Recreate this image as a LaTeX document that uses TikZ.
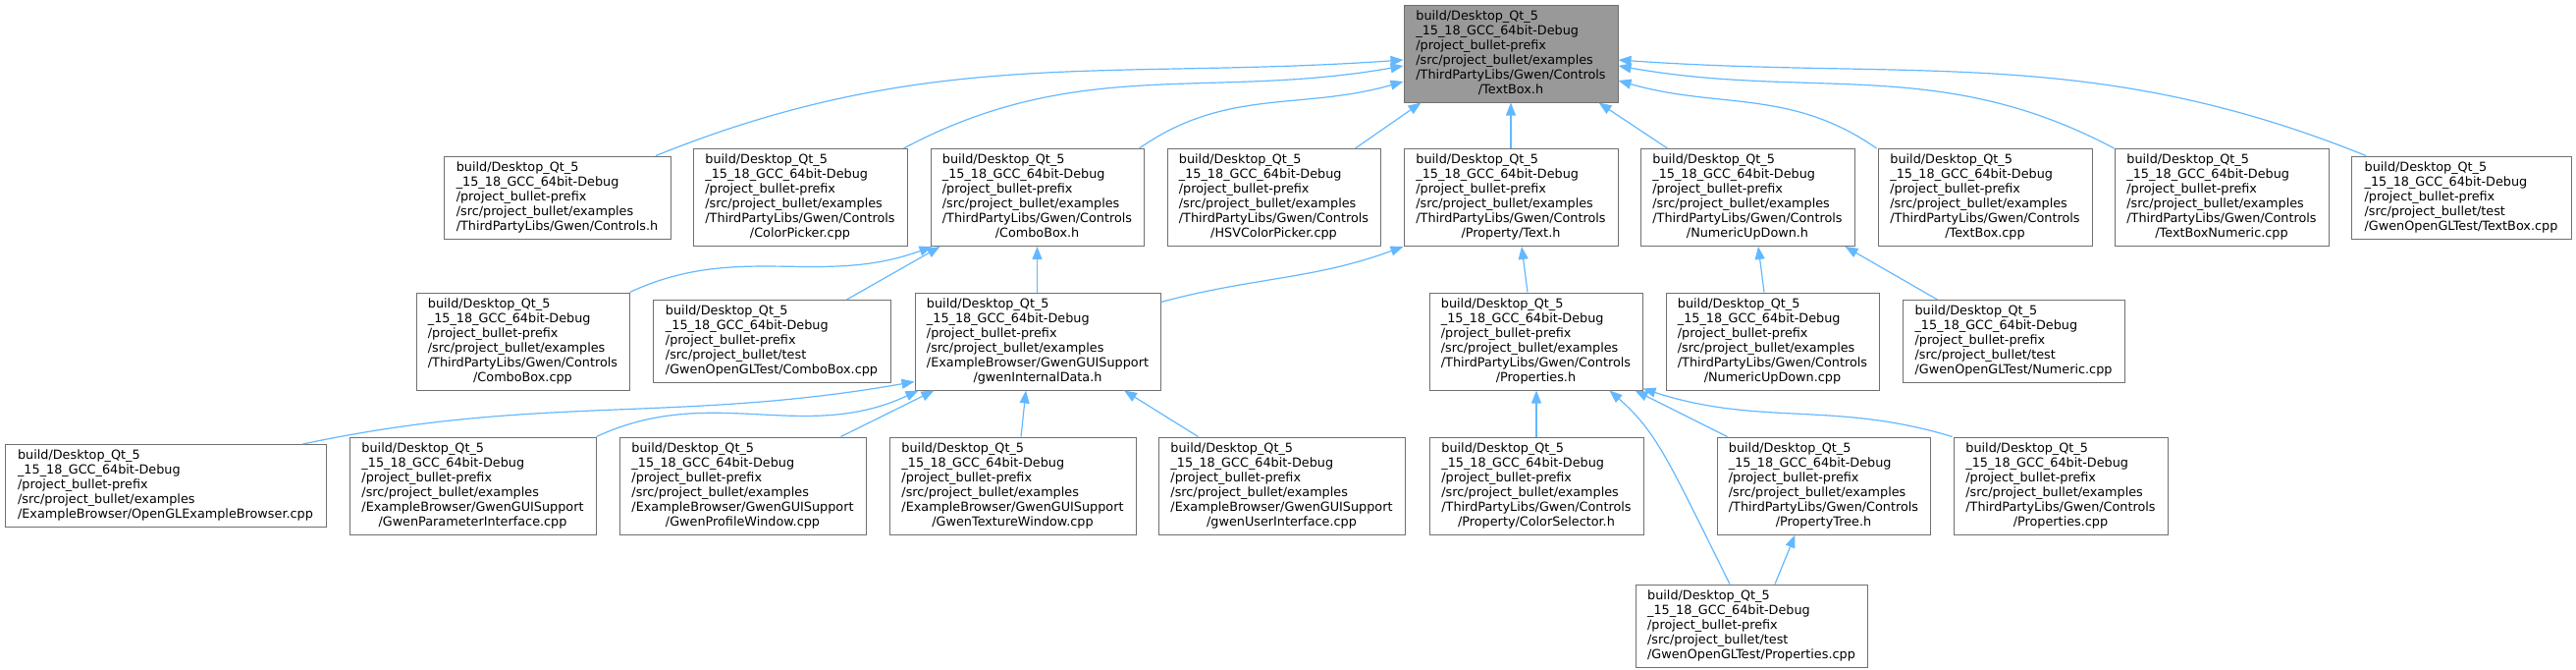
\documentclass[tikz,border=0pt]{standalone}
\usepackage{fontspec}
\setmainfont{DejaVu Sans}
\usepackage{xcolor}
\usetikzlibrary{arrows.meta}

\definecolor{edgeblue}{HTML}{63B8FF}
\definecolor{boxgray}{HTML}{707070}
\definecolor{rootfill}{HTML}{999999}

% file label: left lines, last line centred
\newcommand{\pth}[2]{\begin{tabular}{@{}l@{}}#1\\\multicolumn{1}{@{}c@{}}{#2}\end{tabular}}
\newcommand{\bpre}{build/Desktop\_Qt\_5\\\_15\_18\_GCC\_64bit-Debug\\/project\_bullet-prefix}
\newcommand{\bex}{\bpre\\/src/project\_bullet/examples}
\newcommand{\bctl}{\bex\\/ThirdPartyLibs/Gwen/Controls}
\newcommand{\bgui}{\bex\\/ExampleBrowser/GwenGUISupport}
\newcommand{\btst}{\bpre\\/src/project\_bullet/test}

\begin{document}
\begin{tikzpicture}[x=1pt, y=-1pt,
    box/.style={draw=boxgray, fill=white, line width=1pt, inner sep=0pt, minimum height=99pt, font=\fontsize{12.8}{15}\selectfont},
    sbox/.style={box, minimum height=84pt},
    incl/.style={draw=edgeblue, line width=1.2pt, -{Triangle[length=13pt,width=10pt]}}]
    \useasboundingbox (0,0) rectangle (2624,681);
    % Draw root file
    \node[box, fill=rootfill, minimum width=218pt] (root) at (1539,54.5) {\pth{\bctl}{/TextBox.h}};
    % Draw first row
    \node[sbox, minimum width=231pt] (ctrlh) at (567.5,201) {\pth{\bex}{/ThirdPartyLibs/Gwen/Controls.h}};
    \node[box, minimum width=218pt] (cpick) at (815,201) {\pth{\bctl}{/ColorPicker.cpp}};
    \node[box, minimum width=217pt] (cboxh) at (1056.5,201) {\pth{\bctl}{/ComboBox.h}};
    \node[box, minimum width=217pt] (hsv) at (1297.5,201) {\pth{\bctl}{/HSVColorPicker.cpp}};
    \node[box, minimum width=218pt] (texth) at (1539,201) {\pth{\bctl}{/Property/Text.h}};
    \node[box, minimum width=218pt] (nudh) at (1780,201) {\pth{\bctl}{/NumericUpDown.h}};
    \node[box, minimum width=218pt] (tboxc) at (2022,201) {\pth{\bctl}{/TextBox.cpp}};
    \node[box, minimum width=218pt] (tboxn) at (2263,201) {\pth{\bctl}{/TextBoxNumeric.cpp}};
    \node[sbox, minimum width=224pt] (ttbox) at (2507,201) {\pth{\btst}{/GwenOpenGLTest/TextBox.cpp}};
    % Draw second row
    \node[box, minimum width=217pt] (cboxc) at (532.5,347.5) {\pth{\bctl}{/ComboBox.cpp}};
    \node[sbox, minimum width=242pt] (tcbox) at (786,347.5) {\pth{\btst}{/GwenOpenGLTest/ComboBox.cpp}};
    \node[box, minimum width=250pt] (gidh) at (1057,347.5) {\pth{\bgui}{/gwenInternalData.h}};
    \node[box, minimum width=217pt] (propsh) at (1564.5,347.5) {\pth{\bctl}{/Properties.h}};
    \node[box, minimum width=217pt] (nudc) at (1805.5,347.5) {\pth{\bctl}{/NumericUpDown.cpp}};
    \node[sbox, minimum width=226pt] (tnum) at (2051,347.5) {\pth{\btst}{/GwenOpenGLTest/Numeric.cpp}};
    % Draw third row
    \node[sbox, minimum width=327pt] (oglb) at (168.5,494.5) {\pth{\bex}{/ExampleBrowser/OpenGLExampleBrowser.cpp}};
    \node[box, minimum width=251pt] (gpar) at (481.5,494.5) {\pth{\bgui}{/GwenParameterInterface.cpp}};
    \node[box, minimum width=251pt] (gprof) at (756.5,494.5) {\pth{\bgui}{/GwenProfileWindow.cpp}};
    \node[box, minimum width=251pt] (gtex) at (1031.5,494.5) {\pth{\bgui}{/GwenTextureWindow.cpp}};
    \node[box, minimum width=251pt] (guser) at (1305.5,494.5) {\pth{\bgui}{/gwenUserInterface.cpp}};
    \node[box, minimum width=218pt] (csel) at (1565,494.5) {\pth{\bctl}{/Property/ColorSelector.h}};
    \node[box, minimum width=217pt] (ptree) at (1857.5,494.5) {\pth{\bctl}{/PropertyTree.h}};
    \node[box, minimum width=218pt] (propsc) at (2099,494.5) {\pth{\bctl}{/Properties.cpp}};
    % Draw last row
    \node[sbox, minimum width=236pt] (tprops) at (1784,637) {\pth{\btst}{/GwenOpenGLTest/Properties.cpp}};
    % Draw includes into root
    \draw[incl] ([xshift=100.5pt]ctrlh.north) to[out=22,in=184] ([yshift=-6.5pt]root.west);
    \draw[incl] ([xshift=-4pt]cpick.north east) to[out=28,in=190] ([yshift=-12.5pt]root.west);
    \draw[incl] ([xshift=-5pt]cboxh.north east) to[out=35,in=196] ([yshift=-28.5pt]root.west);
    \draw[incl] ([xshift=-26pt]hsv.north east) -- ([xshift=18pt]root.south west);
    \draw[incl] (texth.north) -- (root.south);
    \draw[incl] ([xshift=28pt]nudh.north west) -- ([xshift=-20pt]root.south east);
    \draw[incl] ([xshift=-1pt]tboxc.north west) to[out=145,in=-16] ([yshift=-27.5pt]root.east);
    \draw[incl] (tboxn.north west) to[out=152,in=-10] ([yshift=-12.5pt]root.east);
    \draw[incl] ([xshift=-97pt]ttbox.north) to[out=158,in=-4] ([yshift=-6.5pt]root.east);
    % Draw includes into first row
    \draw[incl] (cboxc.north east) to[out=25,in=200] ([xshift=2pt]cboxh.south west);
    \draw[incl] ([xshift=-45pt]tcbox.north east) -- ([xshift=10pt]cboxh.south west);
    \draw[incl] (gidh.north -| cboxh.south) -- (cboxh.south);
    \draw[incl] ([yshift=-10pt]gidh.north east) to[out=15,in=200] (texth.south west);
    \draw[incl] ([xshift=-8.5pt]propsh.north) -- ([xshift=11pt]texth.south);
    \draw[incl] ([xshift=-8.5pt]nudc.north) -- ([xshift=11pt]nudh.south);
    \draw[incl] ([xshift=36pt]tnum.north west) -- ([xshift=-10pt]nudh.south east);
    % Draw includes into second row
    \draw[incl] ([xshift=-24pt]oglb.north east) to[out=12,in=190] ([yshift=9pt]gidh.south west);
    \draw[incl] (gpar.north east) to[out=25,in=205] ([xshift=4pt]gidh.south west);
    \draw[incl] ([xshift=-26pt]gprof.north east) -- ([xshift=20pt]gidh.south west);
    \draw[incl] ([xshift=8.5pt]gtex.north) -- ([xshift=-12pt]gidh.south);
    \draw[incl] ([xshift=41pt]guser.north west) -- ([xshift=88pt]gidh.south);
    \draw[incl] (csel.north) -- (csel.north |- propsh.south);
    \draw[incl] ([xshift=11pt]ptree.north west) -- ([xshift=-8pt]propsh.south east);
    \draw[incl] ([xshift=-1pt]propsc.north west) to[out=163,in=-18] ([yshift=2pt]propsh.south east);
    \draw[incl] ([xshift=-22pt]tprops.north) .. controls (1700,470) and (1688,440) .. ([xshift=-34pt]propsh.south east);
    % Draw include into third row
    \draw[incl] ([xshift=24pt]tprops.north) -- ([xshift=-29pt]ptree.south);
\end{tikzpicture}
\end{document}
